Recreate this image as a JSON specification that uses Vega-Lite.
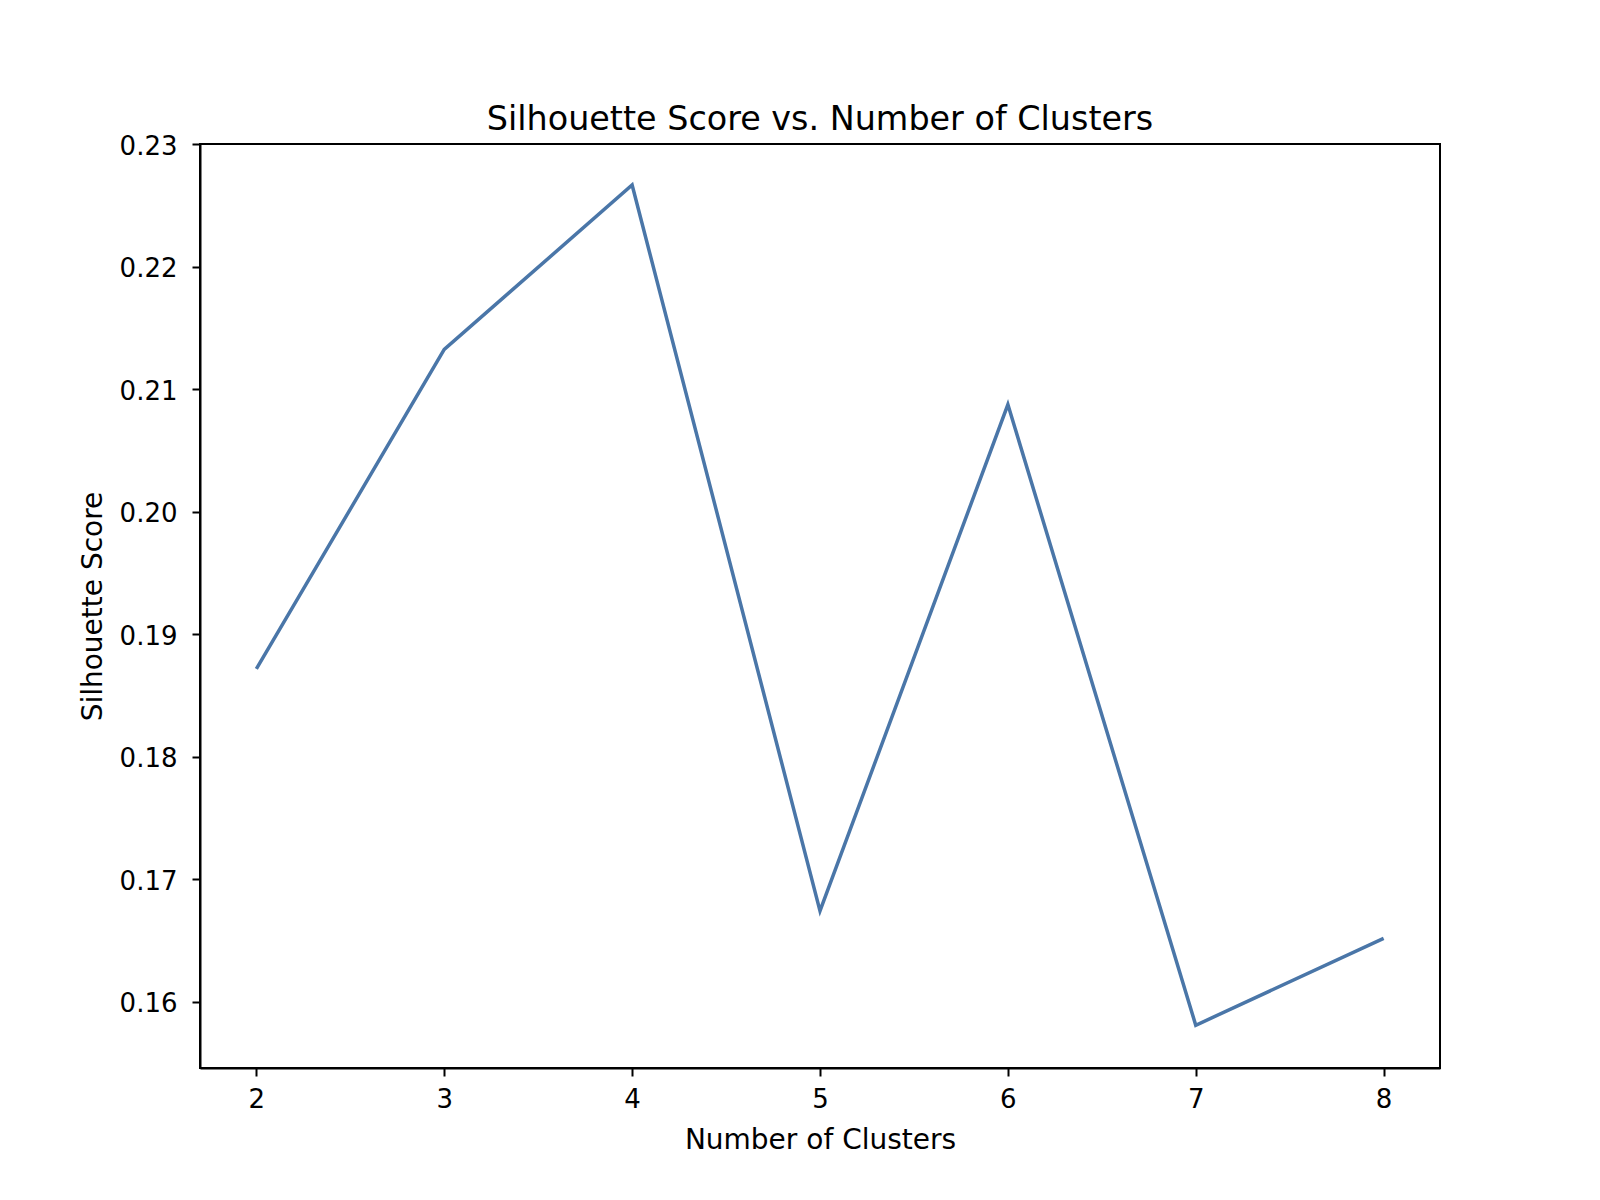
{
  "$schema": "https://vega.github.io/schema/vega-lite/v6.json",
  "width": 1240,
  "height": 924,
  "autosize": {"type": "none"},
  "padding": {"left": 200, "top": 144, "right": 160, "bottom": 132},
  "background": "white",
  "title": {
    "text": "Silhouette Score vs. Number of Clusters",
    "font": "DejaVu Sans",
    "fontSize": 33.4,
    "fontWeight": "normal",
    "color": "black",
    "offset": -4
  },
  "config": {
    "view": {"stroke": "black", "strokeWidth": 2},
    "axis": {
      "labelFont": "DejaVu Sans",
      "titleFont": "DejaVu Sans",
      "labelFontSize": 26,
      "titleFontSize": 28,
      "titleFontWeight": "normal",
      "labelColor": "black",
      "titleColor": "black",
      "domainColor": "black",
      "domainWidth": 2,
      "tickColor": "black",
      "tickWidth": 2,
      "tickSize": 8,
      "grid": false
    }
  },
  "data": {
    "values": [
      {"clusters": 2, "score": 0.18717},
      {"clusters": 3, "score": 0.21325},
      {"clusters": 4, "score": 0.22667},
      {"clusters": 5, "score": 0.16742},
      {"clusters": 6, "score": 0.20875},
      {"clusters": 7, "score": 0.15808},
      {"clusters": 8, "score": 0.16517}
    ]
  },
  "mark": {"type": "line", "color": "#4a76a8", "strokeWidth": 3.5},
  "encoding": {
    "x": {
      "field": "clusters",
      "type": "quantitative",
      "title": "Number of Clusters",
      "scale": {"domain": [1.7, 8.3], "nice": false, "zero": false},
      "axis": {"values": [2, 3, 4, 5, 6, 7, 8], "format": "d", "labelPadding": 10, "titlePadding": 14}
    },
    "y": {
      "field": "score",
      "type": "quantitative",
      "title": "Silhouette Score",
      "scale": {"domain": [0.15459, 0.23002], "nice": false, "zero": false},
      "axis": {"values": [0.16, 0.17, 0.18, 0.19, 0.2, 0.21, 0.22, 0.23], "format": ".2f", "labelPadding": 15, "titlePadding": 12, "labelOffset": 2}
    }
  }
}
